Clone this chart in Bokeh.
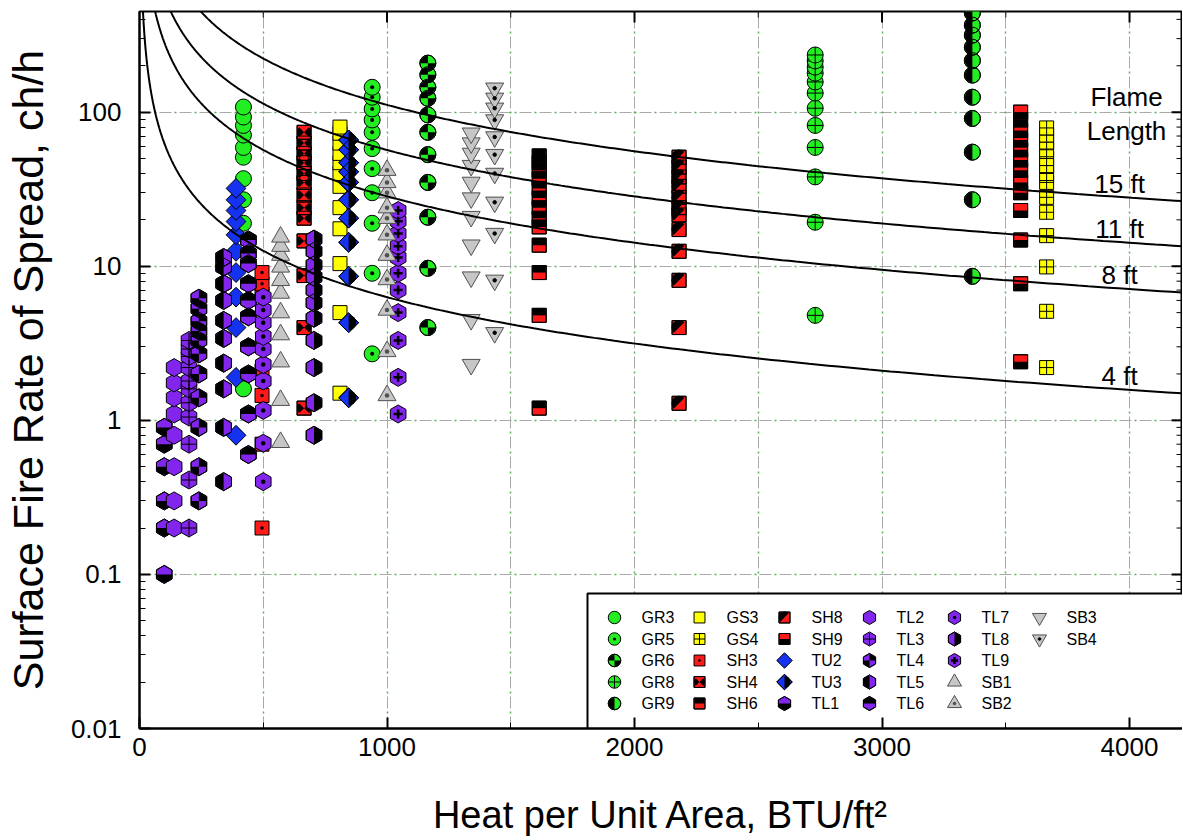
import math
import numpy as np
from bokeh.plotting import figure
from bokeh.models import (Range1d, LinearScale, FixedTicker, CustomJSTickFormatter, Grid, Label)
from bokeh.core.properties import value
from bokeh.embed import file_html
from bokeh.resources import INLINE

# ---------------- data ----------------
FUEL_MODELS = ["GR3", "GR5", "GR6", "GR8", "GR9",
               "GS3", "GS4", "SH3", "SH4", "SH6",
               "SH8", "SH9", "TU2", "TU3", "TL1",
               "TL2", "TL3", "TL4", "TL5", "TL6",
               "TL7", "TL8", "TL9", "SB1", "SB2",
               "SB3", "SB4"]
# heat per unit area (BTU/ft2), aligned with FUEL_MODELS
HPA = [420, 940, 1165, 2730, 3365,
       810, 3665, 495, 665, 1615,
       2180, 3560, 390, 845, 100,
       140, 200, 240, 340, 440,
       500, 705, 1045, 570, 1000,
       1340, 1435]

# surface rate of spread (ch/h) for each model
ROS_GR3 = [1.6, 19, 27, 37, 51, 59, 71, 82, 93, 108]
ROS_GR5 = [2.7, 9, 19, 30, 43, 58, 74, 89, 105, 125, 145]
ROS_GR6 = [4.0, 9.7, 20.8, 35, 53, 74, 96, 123, 145, 175, 208]
ROS_GR8 = [4.8, 19.3, 38, 59, 82, 106, 133, 157, 179, 196, 215, 235]
ROS_GR9 = [8.6, 27, 55, 91, 125, 174, 216, 264, 316, 367, 440]
ROS_GS3 = [1.5, 5.0, 10.4, 17.5, 24, 33, 40, 47, 54, 63, 73, 80]
ROS_GS4 = [2.2, 5.1, 9.9, 15.8, 22.4, 28, 35, 40, 45, 50, 57, 64, 71, 79]
ROS_SH3 = [0.2, 0.7, 1.45, 2.1, 6.6, 7.7, 9.1]
ROS_SH4 = [1.2, 4.0, 8.7, 14.6, 20.5, 24, 29, 35, 40, 47, 54, 63, 74]
ROS_SH6 = [1.2, 4.8, 9.1, 13.7, 18, 20.5, 24, 27.7, 32, 37, 42, 47, 52]
ROS_SH8 = [1.29, 4.0, 8.1, 12.5, 17.3, 21.5, 24, 28, 33, 38, 44, 51]
ROS_SH9 = [2.4, 7.7, 14.8, 23, 30, 35, 42, 49, 57, 66, 76, 89, 100]
ROS_TU2 = [0.8, 1.9, 4.0, 6.3, 9.1, 12.5, 16, 19.5, 23, 27, 32]
ROS_TU3 = [1.4, 4.3, 8.6, 14.3, 20.5, 27, 35, 41, 47, 57, 66]
ROS_TL1 = [0.1, 0.2, 0.3, 0.5, 0.7, 0.9]
ROS_TL2 = [0.2, 0.3, 0.5, 0.8, 1.1, 1.4, 1.75, 2.2]
ROS_TL3 = [0.2, 0.41, 0.7, 1.05, 1.3, 1.6, 1.8, 2.2, 2.6, 2.9, 3.3]
ROS_TL4 = [0.3, 0.5, 0.9, 1.4, 2.0, 2.7, 3.3, 3.8, 4.4, 5.3, 6.2]
ROS_TL5 = [0.4, 0.9, 1.6, 2.35, 3.4, 4.45, 6.0, 7.7, 9.9, 11.4]
ROS_TL6 = [0.6, 1.1, 2.0, 3.0, 4.7, 6.0, 7.7, 10.4, 12.1, 14.8]
ROS_TL7 = [0.4, 0.71, 1.16, 1.8, 2.3, 2.9, 3.5, 4.3, 5.2, 6.3]
ROS_TL8 = [0.8, 1.3, 2.2, 3.3, 4.6, 5.8, 7.0, 8.5, 10.2, 12.5, 15]
ROS_TL9 = [1.1, 1.9, 3.3, 5.0, 7.0, 9.0, 11.4, 13.5, 16.3, 19.6, 23]
ROS_SB1 = [0.72, 1.35, 2.4, 3.6, 5.0, 6.7, 8.1, 9.9, 11.8, 13.5, 15.5]
ROS_SB2 = [1.45, 2.8, 5.2, 8.2, 11.8, 16, 20.5, 24, 30, 35, 42]
ROS_SB3 = [2.3, 4.5, 8.5, 13.7, 21, 27.7, 35, 45, 54, 63, 73]
ROS_SB4 = [3.7, 8.1, 16.3, 26, 40, 53, 69, 89, 106, 123, 143]

FLAME_LENGTHS_FT = [4, 8, 11, 15]
FLAME_LABELS = ["4 ft", "8 ft", "11 ft", "15 ft"]

X_TICKS = [0, 1000, 2000, 3000, 4000]
X_MINOR = [500, 1500, 2500, 3500]
Y_TICKS = [0.01, 0.1, 1, 10, 100]

ROS = {
    "GR3": ROS_GR3, "GR5": ROS_GR5, "GR6": ROS_GR6, "GR8": ROS_GR8, "GR9": ROS_GR9,
    "GS3": ROS_GS3, "GS4": ROS_GS4, "SH3": ROS_SH3, "SH4": ROS_SH4, "SH6": ROS_SH6,
    "SH8": ROS_SH8, "SH9": ROS_SH9, "TU2": ROS_TU2, "TU3": ROS_TU3, "TL1": ROS_TL1,
    "TL2": ROS_TL2, "TL3": ROS_TL3, "TL4": ROS_TL4, "TL5": ROS_TL5, "TL6": ROS_TL6,
    "TL7": ROS_TL7, "TL8": ROS_TL8, "TL9": ROS_TL9, "SB1": ROS_SB1, "SB2": ROS_SB2,
    "SB3": ROS_SB3, "SB4": ROS_SB4,
}

# ---------------- styles ----------------
FONT = "Liberation Sans"
GREEN = "#22EE22"
YELLOW = "#FFFF00"
RED = "#FF1A1A"
BLUE = "#1432F0"
PURPLE = "#8226EE"
GRAY = "#C6C6C6"
HEXA = math.pi / 2

STYLE = {
    "GR3": dict(marker="circle", color=GREEN, size=16),
    "GR5": dict(marker="circle_dot", color=GREEN, size=16),
    "GR6": dict(marker="circle", color=GREEN, size=16, wedges=[(90, 180), (270, 360)], wr=7.5),
    "GR8": dict(marker="circle_cross", color=GREEN, size=16),
    "GR9": dict(marker="circle", color=GREEN, size=16, wedges=[(90, 270)], wr=7.5),
    "GS3": dict(marker="square", color=YELLOW, size=14),
    "GS4": dict(marker="square_cross", color=YELLOW, size=14),
    "SH3": dict(marker="square_dot", color=RED, size=14),
    "SH4": dict(marker="square", color=RED, size=14, wedges=[(-45, 45), (135, 225)], wr=7),
    "SH6": dict(marker="square", color=RED, size=14, ray=90),
    "SH8": dict(marker="square", color=RED, size=14, wedges=[(45, 225)], wr=7.6),
    "SH9": dict(marker="square", color=RED, size=14, ray=270),
    "TU2": dict(marker="square", color=BLUE, size=14, angle=math.pi / 4),
    "TU3": dict(marker="square", color=BLUE, size=14, angle=math.pi / 4, wedges=[(-90, 90)], wr=7.6),
    "TL1": dict(marker="hex", color=PURPLE, size=18, angle=HEXA, wedges=[(180, 360)], wr=8.0),
    "TL2": dict(marker="hex", color=PURPLE, size=18, angle=HEXA),
    "TL3": dict(marker="hex", color=PURPLE, size=18, angle=HEXA, over=("cross", 15, 1)),
    "TL4": dict(marker="hex", color=PURPLE, size=18, angle=HEXA, wedges=[(0, 90), (180, 270)], wr=8.0),
    "TL5": dict(marker="hex", color=PURPLE, size=18, angle=HEXA, wedges=[(90, 270)], wr=8.0),
    "TL6": dict(marker="hex", color=PURPLE, size=18, angle=HEXA, wedges=[(0, 180)], wr=8.0),
    "TL7": dict(marker="hex_dot", color=PURPLE, size=18, angle=HEXA),
    "TL8": dict(marker="hex", color=PURPLE, size=18, angle=HEXA, wedges=[(-90, 90)], wr=8.0),
    "TL9": dict(marker="hex", color=PURPLE, size=18, angle=HEXA, over=("cross", 9, 2.5)),
    "SB1": dict(marker="triangle", color=GRAY, size=18, line="#505050"),
    "SB2": dict(marker="triangle_dot", color=GRAY, size=18, line="#505050"),
    "SB3": dict(marker="inverted_triangle", color=GRAY, size=18, line="#505050"),
    "SB4": dict(marker="inverted_triangle", color=GRAY, size=18, line="#505050", over=("circle", 3.5, 1)),
}

# ---------------- figure ----------------
FW, FH = 1043, 717
X_MAX = 4214
Y_MIN, Y_MAX = 0.01, 450

p = figure(frame_width=FW, frame_height=FH,
           x_range=Range1d(0, X_MAX), y_range=Range1d(Y_MIN, Y_MAX),
           y_axis_type="log", output_backend="svg", toolbar_location=None,
           min_border_left=137, min_border_right=0, min_border_top=11, min_border_bottom=0,
           extra_x_ranges={"lx": Range1d(0, FW)},
           extra_y_ranges={"ly": Range1d(0, FH)},
           extra_y_scales={"ly": LinearScale()})
p.outline_line_color = "black"
p.outline_line_width = 2
p.background_fill_color = "white"
p.border_fill_color = "white"

y_minor = [k * 10.0 ** e for e in range(-2, 3) for k in range(2, 10) if k * 10.0 ** e <= Y_MAX]
fmt = CustomJSTickFormatter(code="return Number(tick.toPrecision(3)).toString();")


def style_axis(ax, ticker):
    ax.ticker = ticker
    ax.axis_line_color = "black"
    ax.axis_line_width = 2
    ax.major_tick_line_color = "black"
    ax.major_tick_line_width = 2
    ax.major_tick_in = 11
    ax.major_tick_out = 0
    ax.minor_tick_line_color = "black"
    ax.minor_tick_line_width = 1
    ax.minor_tick_in = 6
    ax.minor_tick_out = 0
    ax.major_label_text_font = FONT
    ax.major_label_text_font_size = "26px"
    ax.major_label_text_color = "black"
    ax.axis_label_text_font = FONT
    ax.axis_label_text_font_style = "normal"
    ax.axis_label_text_color = "black"


xa = p.xaxis[0]
style_axis(xa, FixedTicker(ticks=X_TICKS, minor_ticks=X_MINOR))
xa.major_label_standoff = 9
xa.axis_label = "Heat per Unit Area, BTU/ft²"
xa.axis_label_text_font_size = "38px"
xa.axis_label_standoff = 35

ya = p.yaxis[0]
style_axis(ya, FixedTicker(ticks=Y_TICKS, minor_ticks=y_minor))
ya.formatter = fmt
ya.major_label_standoff = 18
ya.axis_label = "Surface Fire Rate of Spread, ch/h"
ya.axis_label_text_font_size = "43px"
ya.axis_label_standoff = 16

# grids: gray dashes with small green dots in the gaps
GRID_X = X_MINOR + X_TICKS[1:]
GRID_Y = Y_TICKS[1:]
p.xgrid.ticker = FixedTicker(ticks=GRID_X)
p.ygrid.ticker = FixedTicker(ticks=GRID_Y)
for g in (p.xgrid[0], p.ygrid[0]):
    g.grid_line_color = "#A8A8A8"
    g.grid_line_dash = "12 8"
    g.grid_line_width = 1
for dim, tk in ((0, GRID_X), (1, GRID_Y)):
    g2 = Grid(dimension=dim, ticker=FixedTicker(ticks=tk),
              grid_line_color="#55B055", grid_line_dash="2 18",
              grid_line_dash_offset=5, grid_line_width=1.5)
    p.add_layout(g2)

# inward tick marks on the top and right frame edges
top_major = X_TICKS[1:]
p.ray(top_major, [Y_MAX] * len(top_major), length=11, length_units="screen",
      angle=-math.pi / 2, line_width=2, line_color="black")
p.ray(X_MINOR, [Y_MAX] * len(X_MINOR), length=6, length_units="screen",
      angle=-math.pi / 2, line_width=1, line_color="black")
p.ray([X_MAX] * len(Y_TICKS), Y_TICKS, length=11, length_units="screen",
      angle=math.pi, line_width=2, line_color="black")
p.ray([X_MAX] * len(y_minor), y_minor, length=6, length_units="screen",
      angle=math.pi, line_width=1, line_color="black")


def draw(xs, ys, st, k=1.0, **kw):
    size = st["size"] * k
    ang = st.get("angle", 0)
    lc = st.get("line", "black")
    p.scatter(xs, ys, marker=st["marker"], size=size, angle=ang,
              fill_color=st["color"], line_color=lc, line_width=1, **kw)
    extra = False
    for a0, a1 in st.get("wedges", []):
        p.wedge(xs, ys, radius=st["wr"] * k, radius_units="screen",
                start_angle=math.radians(a0), end_angle=math.radians(a1),
                fill_color="black", line_color=None, **kw)
        extra = True
    if "ray" in st:
        p.ray(xs, ys, length=size / 2, length_units="screen",
              angle=math.radians(st["ray"]), line_width=size - 1,
              line_color="black", line_cap="butt", **kw)
        extra = True
    if "over" in st:
        m, s, lw = st["over"]
        p.scatter(xs, ys, marker=m, size=s * k, line_color="black",
                  line_width=lw, fill_color="black", **kw)
    if extra:
        p.scatter(xs, ys, marker=st["marker"], size=size, angle=ang,
                  fill_color=None, line_color=lc, line_width=1, **kw)


# data markers
for code, hpa in zip(FUEL_MODELS, HPA):
    ys = ROS[code]
    draw([hpa] * len(ys), ys, STYLE[code])

# flame-length isolines (Byram: FL = 0.45 I^0.46, ROS[ch/h] = 54.545 I / HPA)
for fl in FLAME_LENGTHS_FT:
    inten = (fl / 0.45) ** (1 / 0.46)
    kc = 60.0 * inten / 1.1
    x0 = kc / Y_MAX
    hx = np.geomspace(x0, X_MAX, 400)
    p.line(hx, kc / hx, line_color="black", line_width=2)

LABEL_X = 3960
lab_y = [60.0 * (fl / 0.45) ** (1 / 0.46) / 1.1 / LABEL_X for fl in FLAME_LENGTHS_FT]
p.text([LABEL_X] * len(lab_y), lab_y, text=FLAME_LABELS, text_font=value(FONT),
       text_font_size="26px", text_align="center", text_baseline="middle",
       y_offset=-13, text_color="black")
p.add_layout(Label(x=3988, y=125, text="Flame", text_font=FONT, text_font_size="26px",
                   text_align="center", text_baseline="middle", text_color="black"))
p.add_layout(Label(x=3988, y=76, text="Length", text_font=FONT, text_font_size="26px",
                   text_align="center", text_baseline="middle", text_color="black"))

# legend (drawn in frame-pixel coordinates on the extra ranges)
LKW = dict(x_range_name="lx", y_range_name="ly")
p.quad(left=448, right=FW + 10, bottom=0, top=135, fill_color="white",
       line_color="black", line_width=2, **LKW)
LEG_X0, LEG_DX, LEG_Y0, LEG_DY, TXT_GAP = 475, 85, 111, 21.5, 27
lx, ly, tx = [], [], []
for i, code in enumerate(FUEL_MODELS):
    col, row = divmod(i, 5)
    mx = LEG_X0 + col * LEG_DX
    my = LEG_Y0 - row * LEG_DY
    draw([mx], [my], STYLE[code], k=0.78, **LKW)
    lx.append(mx + TXT_GAP)
    ly.append(my)
    tx.append(code)
p.text(lx, ly, text=tx, text_font=value(FONT), text_font_size="16px",
       text_align="left", text_baseline="middle", text_color="black", **LKW)

open("out.html", "w").write(file_html(p, INLINE))
